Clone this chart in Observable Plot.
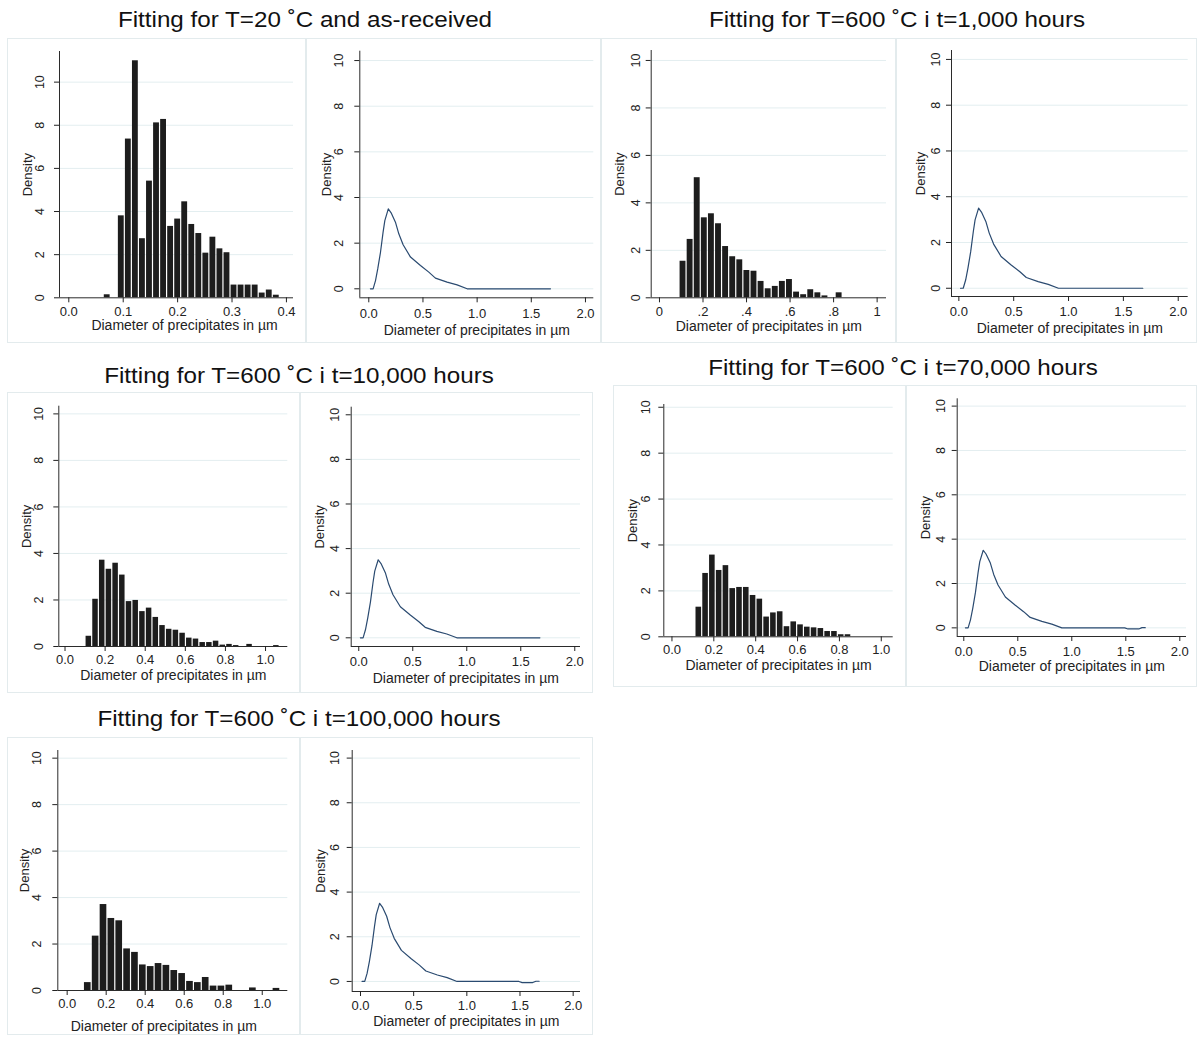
<!DOCTYPE html>
<html>
<head>
<meta charset="utf-8">
<script src="https://cdn.jsdelivr.net/npm/d3@7"></script>
<script src="https://cdn.jsdelivr.net/npm/@observablehq/plot@0.6"></script>
<style>
  html, body { margin: 0; padding: 0; background: #fff; }
  #root { position: relative; width: 1198px; height: 1037px; overflow: hidden; background: #fff;
          font-family: "Liberation Sans", Arial, sans-serif; }
  .title { position: absolute; font-size: 22px; line-height: 22px; color: #111; white-space: nowrap;
           transform: translateX(-50%) scaleX(1.1); transform-origin: center; }
  .box { position: absolute; border: 1px solid #e3ebed; box-sizing: border-box; pointer-events: none; }
  svg { position: absolute; overflow: visible; }
</style>
</head>
<body>
<div id="root"></div>
<script>
// ---------------- data ----------------
const groupTitles = [
  "Fitting for T=20 ˚C and as-received",
  "Fitting for T=600 ˚C i t=1,000 hours",
  "Fitting for T=600 ˚C i t=10,000 hours",
  "Fitting for T=600 ˚C i t=70,000 hours",
  "Fitting for T=600 ˚C i t=100,000 hours"
];
const xTitle = "Diameter of precipitates in µm";
const yTitle = "Density";
const yTickValues = [0, 2, 4, 6, 8, 10];
const xTicksFine = [0, 0.1, 0.2, 0.3, 0.4];
const xTicksUnit = [0, 0.2, 0.4, 0.6, 0.8, 1.0];
const xTicksWide = [0, 0.5, 1.0, 1.5, 2.0];

// histogram bins: first bin left edge, bin width, density per bin
const hist20Start = 0.0641, hist20Width = 0.01295;
const hist20Density = [0.14, 0, 3.80, 7.36, 10.99, 2.74, 5.41, 8.11, 8.27, 3.31, 3.65, 4.45, 3.40,
  2.98, 2.07, 2.81, 2.27, 2.09, 0.59, 0.59, 0.59, 0.59, 0.22, 0.36, 0.12];

const hist1kStart = 0.0919, hist1kWidth = 0.0326;
const hist1kDensity = [1.54, 2.46, 5.06, 3.37, 3.54, 3.12, 2.16, 1.73, 1.60, 1.15, 1.12, 0.69, 0.38,
  0.48, 0.69, 0.77, 0.24, 0.13, 0.34, 0.21, 0.08, 0, 0.21];

const hist10kStart = 0.102, hist10kWidth = 0.0334;
const hist10kDensity = [0.44, 2.03, 3.71, 3.32, 3.58, 3.07, 1.93, 1.98, 1.50, 1.65, 1.25, 0.90, 0.74,
  0.70, 0.57, 0.36, 0.32, 0.17, 0.17, 0.23, 0.06, 0.09, 0.04, 0, 0.09, 0, 0, 0, 0.04];

const hist70kStart = 0.112, hist70kWidth = 0.0324;
const hist70kDensity = [1.29, 2.76, 3.56, 2.89, 3.10, 2.10, 2.15, 2.15, 1.80, 1.64, 0.86, 1.04, 1.09,
  0.44, 0.65, 0.52, 0.42, 0.39, 0.36, 0.23, 0.23, 0.09, 0.09];

const hist100kStart = 0.0855, hist100kWidth = 0.0403;
const hist100kDensity = [0.34, 2.34, 3.70, 3.10, 3.00, 1.79, 1.64, 1.10, 1.03, 1.16, 1.08, 0.86, 0.73,
  0.39, 0.34, 0.56, 0.19, 0.19, 0.23, 0, 0, 0.11, 0, 0, 0.09];

// fitted density curves
const fitDiameter = [0.015, 0.04, 0.062, 0.083, 0.108, 0.132, 0.148, 0.18, 0.206, 0.246, 0.277, 0.317,
  0.385, 0.477, 0.554, 0.615, 0.723, 0.815, 0.908, 1.677];
const fitDensity = [0, 0, 0.36, 0.88, 1.60, 2.48, 2.99, 3.50, 3.33, 2.92, 2.41, 1.93,
  1.39, 1.02, 0.73, 0.47, 0.29, 0.17, 0, 0];
const fitDiameterTail = [0.015, 0.04, 0.062, 0.083, 0.108, 0.132, 0.148, 0.18, 0.206, 0.246, 0.277, 0.317,
  0.385, 0.477, 0.554, 0.615, 0.723, 0.815, 0.908, 1.49, 1.52, 1.62, 1.65, 1.68];
const fitDensityTail = [0, 0, 0.36, 0.88, 1.60, 2.48, 2.99, 3.50, 3.33, 2.92, 2.41, 1.93,
  1.39, 1.02, 0.73, 0.47, 0.29, 0.17, 0, 0, -0.05, -0.05, 0.01, 0.01];

// ---------------- helpers ----------------
const bins = (start, width, dens) =>
  dens.map((d, i) => ({x1: start + i * width, x2: start + (i + 1) * width, density: d}))
      .filter(b => b.density > 0);
const curve = (xs, ys) => xs.map((x, i) => ({diameter: x, density: ys[i]}));
const fmt1 = d3.format(".1f");
const fmtStata = d => d === 0 ? "0" : d === 1 ? "1" : d3.format(".1f")(d).replace(/^0/, "");

const root = document.getElementById("root");

function addTitle(text, cx, baseline) {
  const el = document.createElement("div");
  el.className = "title";
  el.textContent = text;
  el.style.left = cx + "px";
  el.style.top = (baseline - 18.6) + "px";
  root.appendChild(el);
}

function addPanel(p) {
  const [fl, ft, fr, fb] = p.frame;
  const [px0, py0, px1, py1] = p.plot;
  const hist = p.kind === "hist";
  const marks = [
    Plot.gridY(hist ? yTickValues.slice(1) : yTickValues, {stroke: "#e3eef0", strokeOpacity: 1})
  ];
  if (hist) {
    marks.push(Plot.rectY(p.data, {x1: "x1", x2: "x2", y1: 0, y2: "density",
      fill: "#1d1d1d", insetLeft: 0.6, insetRight: 0.6}));
  } else {
    marks.push(Plot.line(p.data, {x: "diameter", y: "density", stroke: "#2a4a70", strokeWidth: 1.2}));
  }
  marks.push(
    Plot.ruleX([p.x[0]], {stroke: "#2b2b2b"}),
    Plot.ruleY([p.y[0]], {stroke: "#2b2b2b"}),
    Plot.axisX({ticks: p.xTicks, tickFormat: p.xFormat, tickSize: 5, tickPadding: p.xPad,
      label: null, fontSize: 13}),
    Plot.axisY({ticks: yTickValues, tickFormat: d => String(d), tickSize: 5, tickRotate: -90,
      tickPadding: p.yPad, label: null, fontSize: 12.5}),
    Plot.text([yTitle], {text: d => d, frameAnchor: "left", rotate: -90, dx: p.densDx || -31,
      lineAnchor: "middle", textAnchor: "middle", fontSize: 13}),
    Plot.text([xTitle], {text: d => d, frameAnchor: "bottom", dy: p.titleDy, dx: p.titleDx || 0,
      lineAnchor: "bottom", textAnchor: "middle", fontSize: 14})
  );
  const svg = Plot.plot({
    width: fr - fl, height: fb - ft,
    marginLeft: px0 - fl, marginTop: py0 - ft, marginRight: fr - px1, marginBottom: fb - py1,
    x: {domain: p.x}, y: {domain: p.y},
    style: {fontFamily: '"Liberation Sans", Arial, sans-serif', color: "#222", background: "transparent", overflow: "visible"},
    marks
  });
  svg.style.left = fl + "px";
  svg.style.top = ft + "px";
  root.appendChild(svg);
  const box = document.createElement("div");
  box.className = "box";
  box.style.left = fl + "px"; box.style.top = ft + "px";
  box.style.width = (fr - fl) + "px"; box.style.height = (fb - ft) + "px";
  root.appendChild(box);
}

// ---------------- panels ----------------
const panels = [
  {kind: "hist", data: bins(hist20Start, hist20Width, hist20Density),
   frame: [7, 38, 306, 343], plot: [59, 51, 293, 297.3], x: [-0.0171, 0.413], y: [0, 11.42],
   xTicks: xTicksFine, xFormat: fmt1, xPad: 3.5, yPad: 10.5, densDx: -32, titleDy: 32.5, titleDx: 8},
  {kind: "line", data: curve(fitDiameter, fitDensity),
   frame: [306, 38, 601, 343], plot: [359.3, 50.7, 593.3, 297.3], x: [-0.083, 2.077], y: [-0.394, 10.41],
   xTicks: xTicksWide, xFormat: fmt1, xPad: 6, yPad: 12, densDx: -32.5, titleDy: 36.7},
  {kind: "hist", data: bins(hist1kStart, hist1kWidth, hist1kDensity),
   frame: [601, 38, 896, 343], plot: [650.7, 50, 886, 297.3], x: [-0.038, 1.043], y: [0, 10.42],
   xTicks: xTicksUnit, xFormat: fmtStata, xPad: 3.5, yPad: 6, titleDy: 33},
  {kind: "line", data: curve(fitDiameter, fitDensity),
   frame: [896, 38, 1197, 343], plot: [951, 50, 1187.7, 296], x: [-0.067, 2.091], y: [-0.36, 10.39],
   xTicks: xTicksWide, xFormat: fmt1, xPad: 5.7, yPad: 7, titleDy: 36.3},
  {kind: "hist", data: bins(hist10kStart, hist10kWidth, hist10kDensity),
   frame: [7, 392, 300, 693], plot: [58.3, 405.7, 287.3, 646], x: [-0.031, 1.111], y: [0, 10.33],
   xTicks: xTicksUnit, xFormat: fmt1, xPad: 3.5, yPad: 10.5, densDx: -32, titleDy: 33},
  {kind: "line", data: curve(fitDiameter, fitDensity),
   frame: [300, 392, 593, 693], plot: [350.7, 406.7, 580, 646], x: [-0.07, 2.053], y: [-0.39, 10.34],
   xTicks: xTicksWide, xFormat: fmt1, xPad: 5.7, yPad: 7, titleDy: 36.3},
  {kind: "hist", data: bins(hist70kStart, hist70kWidth, hist70kDensity),
   frame: [613, 385, 906, 687], plot: [663.3, 404, 892.7, 636.3], x: [-0.039, 1.057], y: [0, 10.12],
   xTicks: xTicksUnit, xFormat: fmt1, xPad: 3, yPad: 8.6, titleDy: 33},
  {kind: "line", data: curve(fitDiameterTail, fitDensityTail),
   frame: [906, 385, 1197, 687], plot: [956.7, 398.3, 1186, 636], x: [-0.061, 2.062], y: [-0.39, 10.33],
   xTicks: xTicksWide, xFormat: fmt1, xPad: 5.7, yPad: 7, titleDy: 34.7},
  {kind: "hist", data: bins(hist100kStart, hist100kWidth, hist100kDensity),
   frame: [7, 737, 300, 1035], plot: [57.3, 750, 287.3, 990], x: [-0.048, 1.131], y: [0, 10.33],
   xTicks: xTicksUnit, xFormat: fmt1, xPad: 3.3, yPad: 12, densDx: -32.5, titleDy: 40.7, titleDx: -9},
  {kind: "line", data: curve(fitDiameterTail, fitDensityTail),
   frame: [300, 737, 593, 1035], plot: [351.7, 750, 580, 991], x: [-0.078, 2.069], y: [-0.45, 10.34],
   xTicks: xTicksWide, xFormat: fmt1, xPad: 4, yPad: 8.7, titleDy: 34.7}
];
panels.forEach(addPanel);

addTitle(groupTitles[0], 305, 27.5);
addTitle(groupTitles[1], 897, 27.5);
addTitle(groupTitles[2], 299, 384);
addTitle(groupTitles[3], 903, 376);
addTitle(groupTitles[4], 298.5, 727);
</script>
</body>
</html>
